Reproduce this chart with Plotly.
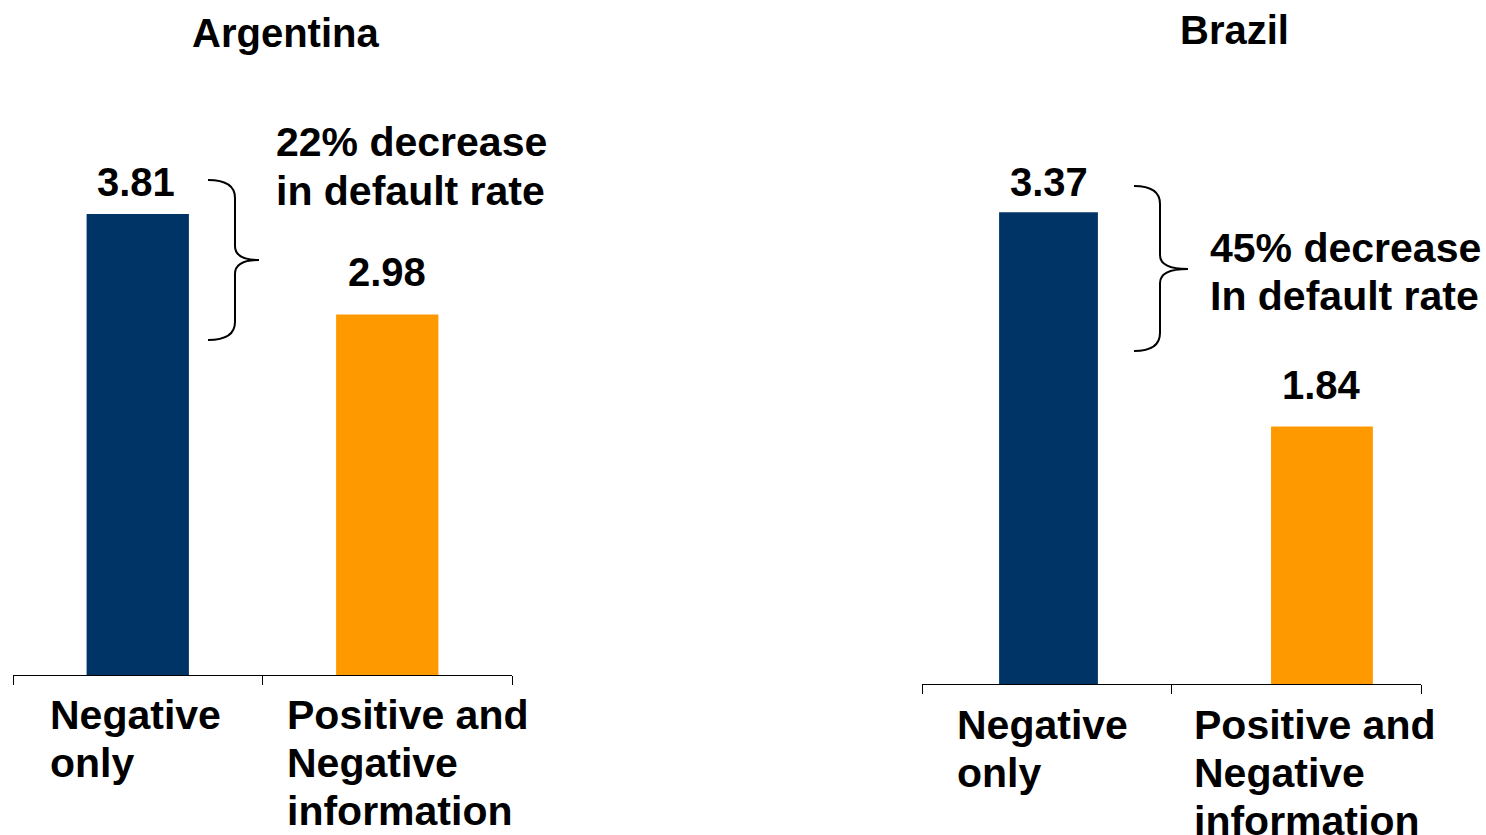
import plotly.graph_objects as go

# ---------------- data ----------------
categories = ["Negative only", "Positive and Negative information"]
argentina_values = [3.81, 2.98]
brazil_values = [3.37, 1.84]
panel_titles = ["Argentina", "Brazil"]
category_label_lines = [["Negative", "only"], ["Positive and", "Negative", "information"]]
note_lines = [["22% decrease", "in default rate"], ["45% decrease", "In default rate"]]
value_labels_arg = ["3.81", "2.98"]
value_labels_bra = ["3.37", "1.84"]

# ---------------- style ----------------
W, H = 1486, 835
FONT = "Liberation Sans, Arial, Helvetica, sans-serif"
FS = 40
FS_TXT = 41
LINE = 48
DESC = 9.5  # distance from text baseline to annotation box bottom
bar_colors = ["#003366", "#FF9900"]


def px(x):
    return x / W


def py(y):
    return 1 - y / H


panels = [
    dict(x0=13, x1=512, base=675, top=10, ppu=121.0),
    dict(x0=922, x1=1421, base=684, top=10, ppu=140.0),
]

fig = go.Figure()

fig.add_trace(go.Bar(x=categories, y=argentina_values, marker=dict(color=bar_colors, line=dict(width=0)),
                     width=0.41, xaxis="x", yaxis="y", showlegend=False, hoverinfo="x+y"))
right_width = [0.396, 0.408]
right_offset = [-0.191, -0.101]
fig.add_trace(go.Bar(x=categories, y=brazil_values, marker=dict(color=bar_colors, line=dict(width=0)),
                     width=right_width, offset=right_offset,
                     xaxis="x2", yaxis="y2", showlegend=False, hoverinfo="x+y"))

layout = dict(width=W, height=H, margin=dict(l=0, r=0, t=0, b=0),
              paper_bgcolor="white", plot_bgcolor="white", showlegend=False,
              font=dict(family=FONT, size=FS, color="black"))

for i, p in enumerate(panels):
    xa = "xaxis" if i == 0 else "xaxis2"
    ya = "yaxis" if i == 0 else "yaxis2"
    layout[xa] = dict(domain=[px(p["x0"]), px(p["x1"])], type="category", range=[-0.5, 1.5],
                      tickson="boundaries", ticks="outside", ticklen=9, tickwidth=1, tickcolor="black",
                      showline=True, linecolor="black", linewidth=1, showticklabels=False,
                      showgrid=False, zeroline=False, anchor="y" if i == 0 else "y2", fixedrange=True)
    layout[ya] = dict(domain=[py(p["base"]), py(p["top"])], range=[0, (p["base"] - p["top"]) / p["ppu"]],
                      visible=False, showgrid=False, zeroline=False, anchor="x" if i == 0 else "x2",
                      fixedrange=True)

fig.update_layout(**layout)

ann = []


def text_ann(size=FS, **kw):
    d = dict(showarrow=False, font=dict(family=FONT, size=size, color="black"), borderpad=1)
    d.update(kw)
    ann.append(d)


# value labels above bars
value_gap = [[17, 28], [16, 27]]   # baseline above bar top, px
value_xshift = [[-2, 0], [2, 25]]
for pi, (vals, labs) in enumerate([(argentina_values, value_labels_arg), (brazil_values, value_labels_bra)]):
    xr = "x" if pi == 0 else "x2"
    yr = "y" if pi == 0 else "y2"
    for ci, (c, v, lab) in enumerate(zip(categories, vals, labs)):
        text_ann(x=c, y=v, xref=xr, yref=yr, xanchor="center", yanchor="bottom",
                 text="<b>" + lab + "</b>", yshift=value_gap[pi][ci] - DESC, xshift=value_xshift[pi][ci])

# category labels (left aligned blocks under the axis)
cat_xshift = [[-90, -102], [-92, -104]]
cat_first_base = [55, 56]
for pi in range(2):
    xr = "x" if pi == 0 else "x2"
    yr = "y" if pi == 0 else "y2"
    for ci, c in enumerate(categories):
        for li, line in enumerate(category_label_lines[ci]):
            text_ann(size=FS_TXT, x=c, y=0, xref=xr, yref=yr, xanchor="left", yanchor="bottom", align="left",
                     text="<b>" + line + "</b>", xshift=cat_xshift[pi][ci],
                     yshift=-(cat_first_base[pi] + LINE * li + DESC))

# panel titles
title_pos = [(285, 47), (1234, 44)]
for t, (cx, base) in zip(panel_titles, title_pos):
    text_ann(x=px(cx), y=py(base + DESC), xref="paper", yref="paper", xanchor="center", yanchor="bottom",
             text="<b>" + t + "</b>")

# notes next to braces
note_pos = [(274, 158), (1208, 263)]
for lines, (lx, base) in zip(note_lines, note_pos):
    for li, line in enumerate(lines):
        text_ann(size=FS_TXT, x=px(lx), y=py(base + LINE * li + DESC), xref="paper", yref="paper",
                 xanchor="left", yanchor="bottom", text="<b>" + line + "</b>")

fig.update_layout(annotations=ann)


# braces
def brace(xe, xv, xt, ytop, ytip, ybot):
    pts = [
        ("M", [(xe, ytop)]),
        ("Q", [(xv, ytop), (xv, ytop + 18)]),
        ("L", [(xv, ytip - 14)]),
        ("Q", [(xv, ytip), (xt, ytip)]),
        ("Q", [(xv, ytip), (xv, ytip + 14)]),
        ("L", [(xv, ybot - 18)]),
        ("Q", [(xv, ybot), (xe, ybot)]),
    ]
    s = ""
    for cmd, ps in pts:
        s += cmd + " " + " ".join(f"{px(x):.5f},{py(y):.5f}" for x, y in ps) + " "
    return s.strip()


shapes = [
    dict(type="path", xref="paper", yref="paper", path=brace(208, 235, 259, 180, 260, 340),
         line=dict(color="black", width=2)),
    dict(type="path", xref="paper", yref="paper", path=brace(1134, 1160, 1188, 186, 269, 351),
         line=dict(color="black", width=2)),
]
fig.update_layout(shapes=shapes)

fig.write_html("out.html", config=dict(displayModeBar=False))
